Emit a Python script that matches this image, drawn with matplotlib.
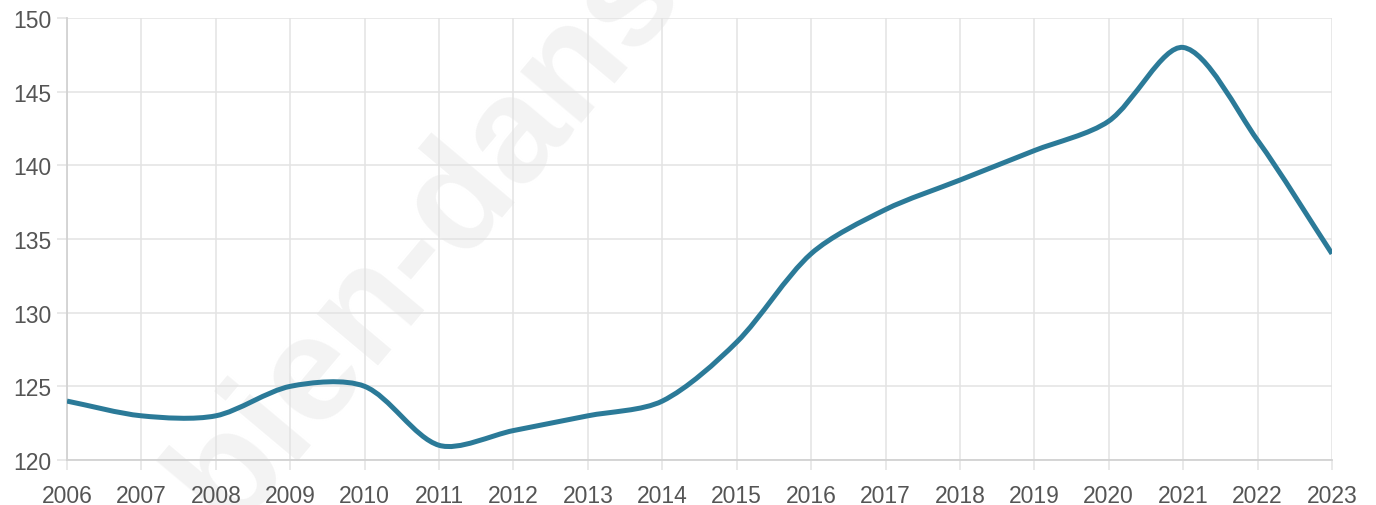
import numpy as np
import matplotlib
matplotlib.use("Agg")
from matplotlib import pyplot as plt
from matplotlib.path import Path
from matplotlib.patches import PathPatch

# Datos
annees = [2006, 2007, 2008, 2009, 2010, 2011, 2012, 2013, 2014,
          2015, 2016, 2017, 2018, 2019, 2020, 2021, 2022, 2023]
valeurs = [124, 123, 123, 125, 125, 121, 122, 123, 124,
           128, 134, 137, 139, 141, 143, 148, 141.7, 134]
y_ticks = [120, 125, 130, 135, 140, 145, 150]

couleur_ligne = "#2b7a98"
couleur_grille = "#e3e3e3"
couleur_texte = "#555555"
tension = 0.3

plt.rcParams['font.family'] = ['Liberation Sans', 'DejaVu Sans']

fig = plt.figure(figsize=(13.76, 5.06), dpi=100)
ax = fig.add_axes([0.0487, 0.0889, 0.9193, 0.8736])
ax.set_zorder(1)
ax.patch.set_alpha(0)

ax.set_xlim(annees[0], annees[-1])
ax.set_ylim(y_ticks[0], y_ticks[-1])
ax.set_xticks(annees)
ax.set_yticks(y_ticks)

# Courbe lissée (spline type Chart.js, calculée en pixels puis ramenée aux données)
pts = np.column_stack([annees, valeurs]).astype(float)
pix = ax.transData.transform(pts)
n = len(pix)
ctrl_prev = np.zeros_like(pix)
ctrl_next = np.zeros_like(pix)
for i in range(n):
    p0 = pix[max(i - 1, 0)]
    p1 = pix[i]
    p2 = pix[min(i + 1, n - 1)]
    d01 = np.hypot(*(p1 - p0))
    d12 = np.hypot(*(p2 - p1))
    s01 = d01 / (d01 + d12)
    s12 = d12 / (d01 + d12)
    ctrl_prev[i] = p1 - tension * s01 * (p2 - p0)
    ctrl_next[i] = p1 + tension * s12 * (p2 - p0)
inv = ax.transData.inverted()
ctrl_prev = inv.transform(ctrl_prev)
ctrl_next = inv.transform(ctrl_next)

verts = [tuple(pts[0])]
codes = [Path.MOVETO]
for i in range(n - 1):
    verts += [tuple(ctrl_next[i]), tuple(ctrl_prev[i + 1]), tuple(pts[i + 1])]
    codes += [Path.CURVE4, Path.CURVE4, Path.CURVE4]
courbe = PathPatch(Path(verts, codes), facecolor="none", edgecolor=couleur_ligne,
                   linewidth=3.6, capstyle="butt", joinstyle="round", zorder=3)
ax.add_patch(courbe)

# Grille et axes
ax.grid(True, color=couleur_grille, linewidth=1.1, zorder=1)
ax.set_axisbelow(True)
for side in ["top", "right"]:
    ax.spines[side].set_visible(False)
for side in ["left", "bottom"]:
    ax.spines[side].set_color("#d2d2d2")
    ax.spines[side].set_linewidth(1.3)
ax.tick_params(axis="both", length=7, width=1.1, color=couleur_grille,
               labelcolor=couleur_texte, labelsize=16.5)
ax.tick_params(axis="x", pad=10)
ax.tick_params(axis="y", pad=4)

# Filigrane
fig.text(0.31, 0.535, "bien-dans", fontsize=108, fontweight="bold", color="#f3f3f3",
         rotation=50, ha="center", va="center", zorder=0)

plt.savefig("out.png", dpi=100)
